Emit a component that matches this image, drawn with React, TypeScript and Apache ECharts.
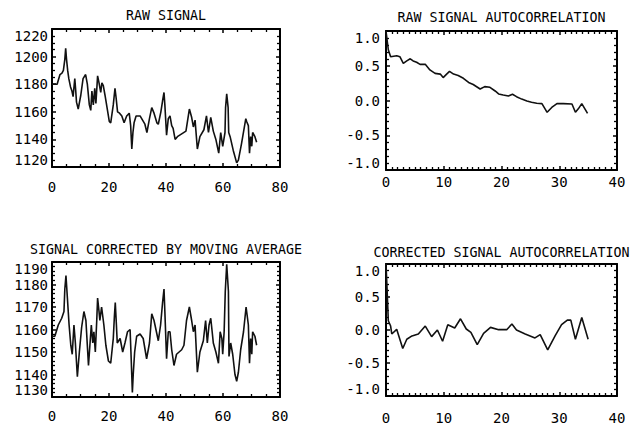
import React, { useEffect, useRef } from "react";
import * as echarts from "echarts";

// ---- data ----
const rawSignal: [number, number][] = [
  [0, 1180], [1, 1180], [1.8, 1180], [2.8, 1187], [3.5, 1188], [4, 1190], [4.5, 1198], [4.8, 1206],
  [5.1, 1198], [5.5, 1190], [5.9, 1184], [6.5, 1178], [7.0, 1175], [7.4, 1171], [8.0, 1184], [8.3, 1176],
  [8.6, 1167], [9.2, 1162], [10.1, 1172], [10.9, 1184], [11.8, 1187], [12.4, 1180], [13.1, 1165], [13.6, 1161],
  [14.0, 1175], [14.5, 1165], [15.0, 1177], [15.4, 1166], [16.0, 1186], [16.5, 1181], [17.1, 1174], [17.5, 1181],
  [18.0, 1179], [18.6, 1172], [19.4, 1162], [20.1, 1153], [20.6, 1152], [21.5, 1165], [22.1, 1177], [22.5, 1170],
  [23.0, 1160], [23.7, 1159], [24.5, 1157], [25.3, 1152], [26.2, 1157], [27.1, 1159], [27.6, 1150], [28.0, 1133],
  [28.4, 1145], [28.8, 1152], [29.5, 1157], [30.9, 1157], [32.6, 1151], [33.3, 1145], [34.2, 1155], [35.0, 1163],
  [35.8, 1159], [36.8, 1152], [37.3, 1151], [38.2, 1160], [38.8, 1168], [39.3, 1174], [39.6, 1165], [40.2, 1143],
  [40.8, 1155], [41.4, 1157], [42.0, 1150], [42.5, 1148], [43.2, 1140], [44.0, 1142], [45.5, 1144], [47.0, 1146],
  [48.2, 1162], [49.0, 1156], [49.6, 1149], [50.2, 1154], [51.0, 1133], [51.9, 1142], [53.3, 1147], [54.2, 1157],
  [54.9, 1145], [55.7, 1156], [56.6, 1146], [57.5, 1140], [58.5, 1130], [59.2, 1145], [59.9, 1135], [60.7, 1145],
  [60.9, 1163], [61.3, 1173], [61.8, 1163], [62.0, 1145], [62.5, 1142], [63.6, 1132], [64.8, 1123], [65.4, 1125],
  [66.5, 1137], [68.0, 1155], [68.3, 1153], [68.9, 1150], [69.3, 1130], [69.7, 1142], [70.1, 1135], [70.4, 1145],
  [71.2, 1142], [71.8, 1138],
];

const correctedSignal: [number, number][] = [
  [0, 1157], [1.0, 1157], [2.2, 1162], [3.4, 1165], [4.2, 1168], [4.5, 1178], [4.9, 1184], [5.4, 1174],
  [6.0, 1162], [6.6, 1153], [7.1, 1149], [7.7, 1162], [8.2, 1154], [8.9, 1139], [9.6, 1150], [10.4, 1161],
  [11.2, 1168], [11.9, 1164], [12.8, 1144], [13.3, 1153], [13.8, 1162], [14.3, 1154], [14.7, 1159], [15.2, 1150],
  [15.7, 1164], [16.0, 1174], [16.5, 1168], [16.8, 1164], [17.4, 1170], [18.2, 1162], [18.9, 1153], [19.8, 1146],
  [20.6, 1145], [21.5, 1156], [21.9, 1166], [22.2, 1172], [22.6, 1162], [22.9, 1154], [23.9, 1156], [24.8, 1150],
  [25.6, 1154], [26.5, 1159], [27.4, 1160], [27.7, 1150], [28.2, 1132], [28.5, 1140], [29.0, 1150], [29.7, 1157],
  [30.9, 1158], [32.0, 1156], [33.2, 1147], [34.2, 1154], [35.0, 1167], [35.8, 1164], [36.8, 1158], [37.3, 1155],
  [38.1, 1162], [38.8, 1172], [39.3, 1178], [39.6, 1168], [40.2, 1147], [40.8, 1159], [41.4, 1159], [42.0, 1151],
  [42.8, 1144], [43.7, 1149], [45.5, 1151], [46.3, 1153], [47.2, 1164], [48.2, 1170], [49.0, 1164], [49.6, 1159],
  [50.2, 1162], [51.0, 1141], [51.9, 1150], [53.1, 1155], [53.9, 1164], [54.5, 1154], [55.1, 1162], [55.7, 1165],
  [56.2, 1159], [56.6, 1154], [57.5, 1150], [58.4, 1145], [59.0, 1159], [59.6, 1156], [59.9, 1149], [60.4, 1159],
  [60.8, 1177], [61.3, 1189], [61.9, 1177], [62.1, 1148], [62.7, 1154], [63.4, 1149], [64.2, 1140], [64.8, 1137],
  [65.4, 1141], [66.2, 1151], [67.2, 1159], [68.1, 1170], [68.9, 1162], [69.3, 1145], [69.7, 1156], [70.1, 1149],
  [70.4, 1159], [71.2, 1157], [71.8, 1153],
];

const rawAutocorr: [number, number][] = [
  [0, 1.0], [0.4, 0.73], [0.8, 0.63], [1.85, 0.645], [2.4, 0.63], [3.0, 0.535], [3.6, 0.57], [4.2, 0.6],
  [4.7, 0.57], [5.3, 0.55], [5.9, 0.52], [6.8, 0.52], [7.6, 0.44], [8.5, 0.39], [9.4, 0.38], [9.9, 0.33],
  [10.5, 0.38], [11.0, 0.42], [11.7, 0.38], [12.5, 0.36], [13.4, 0.32], [14.3, 0.26], [15.1, 0.23], [16.3, 0.165],
  [17.1, 0.2], [18.0, 0.19], [18.9, 0.137], [19.5, 0.094], [20.3, 0.08], [21.2, 0.065], [21.9, 0.09], [22.6, 0.055],
  [23.5, 0.02], [24.4, -0.007], [25.2, -0.026], [26.1, -0.04], [27.0, -0.045], [27.9, -0.17], [28.7, -0.1],
  [29.6, -0.045], [30.7, -0.045], [32.2, -0.05], [32.8, -0.17], [33.3, -0.12], [33.9, -0.045], [34.9, -0.185],
];

const correctedAutocorr: [number, number][] = [
  [0, 1.0], [0.2, 0.59], [0.4, 0.14], [0.8, 0.06], [1.0, -0.06], [1.85, 0.01], [2.9, -0.28], [3.6, -0.14],
  [4.5, -0.09], [5.6, -0.06], [6.8, 0.06], [7.9, -0.1], [8.9, 0.0], [9.8, -0.17], [10.7, 0.08], [11.9, 0.03],
  [12.9, 0.17], [13.9, 0.015], [14.7, -0.035], [15.8, -0.22], [16.9, -0.05], [18.1, 0.04], [19.5, 0.005],
  [20.9, 0.005], [21.8, 0.09], [22.6, 0.0], [24.1, -0.06], [25.8, -0.12], [26.7, -0.07], [28.0, -0.3],
  [29.3, -0.085], [30.4, 0.08], [31.4, 0.15], [32.0, 0.15], [32.8, -0.14], [33.9, 0.19], [35.0, -0.14],
];

const titles = [
  "RAW SIGNAL",
  "RAW SIGNAL AUTOCORRELATION",
  "SIGNAL CORRECTED BY MOVING AVERAGE",
  "CORRECTED SIGNAL AUTOCORRELATION",
];

// axis scales: [min, max, interval]
const signalX = [0, 80, 20];
const lagX = [0, 40, 10];
const rawY = [1120, 1220, 20];
const correctedY = [1130, 1190, 10];
const corrY = [-1, 1, 0.5];

// ---- layout ----
const panels = [
  { data: rawSignal, x: signalX, y: rawY, xMinor: 4, yMinor: 4, dec: 0,
    grid: { left: 52, top: 29, width: 228, height: 138 }, xMargin: 13, yMargin: 4, titleY: 15 },
  { data: rawAutocorr, x: lagX, y: corrY, xMinor: 10, yMinor: 5, dec: 1,
    grid: { left: 386, top: 31, width: 231, height: 139 }, xMargin: 5, yMargin: 6, titleY: 17 },
  { data: correctedSignal, x: signalX, y: correctedY, xMinor: 4, yMinor: 5, dec: 0,
    grid: { left: 52, top: 262, width: 228, height: 135 }, xMargin: 12, yMargin: 4, titleY: 249 },
  { data: correctedAutocorr, x: lagX, y: corrY, xMinor: 10, yMinor: 5, dec: 1,
    grid: { left: 386, top: 264, width: 231, height: 134 }, xMargin: 15, yMargin: 6, titleY: 252 },
];

const FONT = "'DejaVu Sans Mono', 'Liberation Mono', monospace";

function makeAxis(range: number[], gridIndex: number, position: string, minor: number,
  label: any) {
  return {
    type: "value",
    gridIndex,
    position,
    min: range[0],
    max: range[1],
    interval: range[2],
    axisLine: { show: true, onZero: false, lineStyle: { color: "#000", width: 2 } },
    axisTick: { show: true, inside: true, length: 4, lineStyle: { color: "#000", width: 1.5 } },
    minorTick: { show: true, splitNumber: minor, length: 3, lineStyle: { color: "#000", width: 1.3 } },
    splitLine: { show: false },
    minorSplitLine: { show: false },
    axisLabel: label,
  };
}

export default function App() {
  const ref = useRef<HTMLDivElement>(null);
  useEffect(() => {
    document.body.style.margin = "0";
    if (!ref.current) return;
    const chart = echarts.init(ref.current, undefined, { renderer: "svg" });
    const grids: any[] = [];
    const xAxes: any[] = [];
    const yAxes: any[] = [];
    const series: any[] = [];
    const graphics: any[] = [];
    panels.forEach((p, i) => {
      grids.push({ ...p.grid, containLabel: false });
      const labelBase = { color: "#000", fontFamily: FONT, fontSize: 14 };
      xAxes.push(makeAxis(p.x, i, "bottom", p.xMinor, {
        ...labelBase, show: true, margin: p.xMargin, showMinLabel: true, showMaxLabel: true,
        formatter: (v: number) => String(v),
      }));
      xAxes.push(makeAxis(p.x, i, "top", p.xMinor, { show: false }));
      yAxes.push(makeAxis(p.y, i, "left", p.yMinor, {
        ...labelBase, show: true, margin: p.yMargin, showMinLabel: true, showMaxLabel: true,
        verticalAlignMaxLabel: "top", verticalAlignMinLabel: "bottom",
        formatter: (v: number) => v.toFixed(p.dec),
      }));
      yAxes.push(makeAxis(p.y, i, "right", p.yMinor, { show: false }));
      series.push({
        type: "line",
        xAxisIndex: i * 2,
        yAxisIndex: i * 2,
        data: p.data,
        showSymbol: false,
        symbol: "none",
        lineStyle: { color: "#111", width: 1.6 },
        clip: true,
      });
      graphics.push({
        type: "text",
        x: p.grid.left + p.grid.width / 2,
        y: p.titleY,
        style: {
          text: titles[i],
          fill: "#000",
          font: `13.3px ${FONT}`,
          textAlign: "center",
          textVerticalAlign: "middle",
        },
      });
    });
    chart.setOption({
      animation: false,
      backgroundColor: "#fff",
      grid: grids,
      xAxis: xAxes,
      yAxis: yAxes,
      series,
      graphic: graphics,
    });
    return () => chart.dispose();
  }, []);
  return <div ref={ref} style={{ width: 636, height: 425 }} />;
}
